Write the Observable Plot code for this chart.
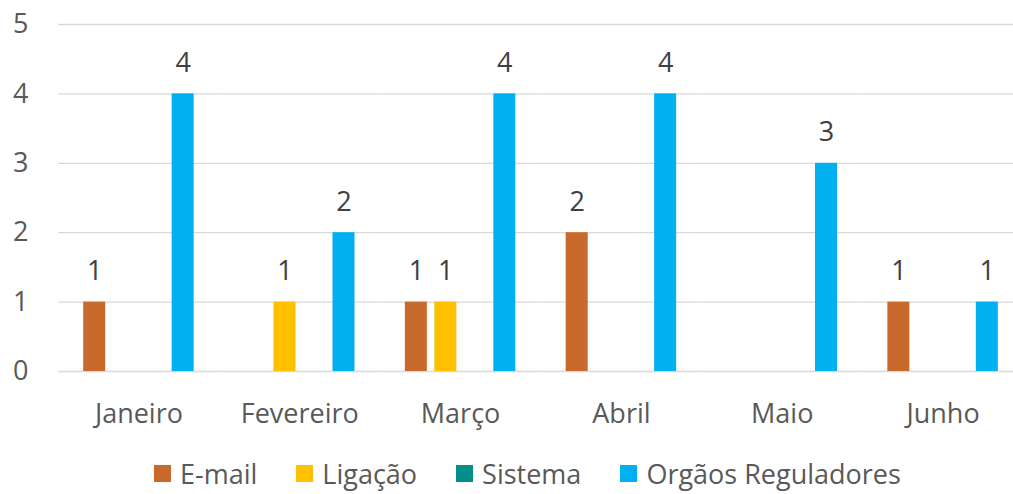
<!DOCTYPE html>
<html>
<head>
<meta charset="utf-8">
<script src="https://cdn.jsdelivr.net/npm/d3@7"></script>
<script src="https://cdn.jsdelivr.net/npm/@observablehq/plot@0.6"></script>
<style>
  html, body { margin: 0; padding: 0; background: #fff; overflow: hidden; }
  #chart svg { display: block; overflow: visible; }
  #legend { display: flex; align-items: center; padding-left: 154px; padding-top: 12px; height: 42px; font-family: "Open Sans", sans-serif; font-size: 27px; color: #595959; }
  .item { display: flex; align-items: center; margin-right: 39px; }
  .sw { width: 17px; height: 17px; margin-right: 9px; }
</style>
</head>
<body>
<div id="chart"></div>
<div id="legend"></div>
<script>
const months = ["Janeiro", "Fevereiro", "Março", "Abril", "Maio", "Junho"];
const series = ["E-mail", "Ligação", "Sistema", "Orgãos Reguladores"];
const colors = ["#C76A2B", "#FFC000", "#058F8B", "#00B0F0"];
const emailValues = [1, 0, 1, 2, 0, 1];
const ligacaoValues = [0, 1, 1, 0, 0, 0];
const sistemaValues = [0, 0, 0, 0, 0, 0];
const orgaosValues = [4, 2, 4, 4, 3, 1];
const yTicks = [0, 1, 2, 3, 4, 5];

const valuesBySeries = [emailValues, ligacaoValues, sistemaValues, orgaosValues];
const data = [];
months.forEach((m, i) => {
  series.forEach((s, j) => {
    data.push({month: m, series: s, value: valuesBySeries[j][i]});
  });
});
const nonZero = data.filter(d => d.value > 0);

const chart = Plot.plot({
  width: 1013,
  height: 440,
  marginTop: 24,
  marginBottom: 69,
  marginLeft: 58,
  marginRight: -10,
  style: {fontFamily: "'Open Sans', sans-serif", fontSize: "27px", color: "#595959"},
  fx: {domain: months, padding: 0, round: false, label: null},
  x: {domain: series, paddingInner: 0.254, paddingOuter: 0.854, round: false, axis: null},
  y: {domain: [0, 5], axis: null},
  color: {domain: series, range: colors},
  marks: [
    Plot.ruleY(yTicks, {stroke: "#d9d9d9", strokeWidth: 1.3}),
    Plot.barY(nonZero, {fx: "month", x: "series", y: "value", fill: "series"}),
    Plot.text(nonZero, {fx: "month", x: "series", y: "value", text: d => String(d.value), lineAnchor: "bottom", dy: -22, fill: "#404040", fontSize: 27}),
    Plot.axisY(yTicks, {anchor: "left", tickSize: 0, tickPadding: 30, tickFormat: "d", fill: "#595959", fontSize: 27, label: null}),
    Plot.axisFx({anchor: "bottom", tickSize: 0, tickPadding: 32, fill: "#595959", fontSize: 27, label: null})
  ]
});
document.getElementById("chart").appendChild(chart);

const legend = document.getElementById("legend");
series.forEach((s, j) => {
  const item = document.createElement("div");
  item.className = "item";
  const sw = document.createElement("div");
  sw.className = "sw";
  sw.style.background = colors[j];
  const t = document.createElement("span");
  t.textContent = s;
  item.appendChild(sw);
  item.appendChild(t);
  legend.appendChild(item);
});
</script>
</body>
</html>
